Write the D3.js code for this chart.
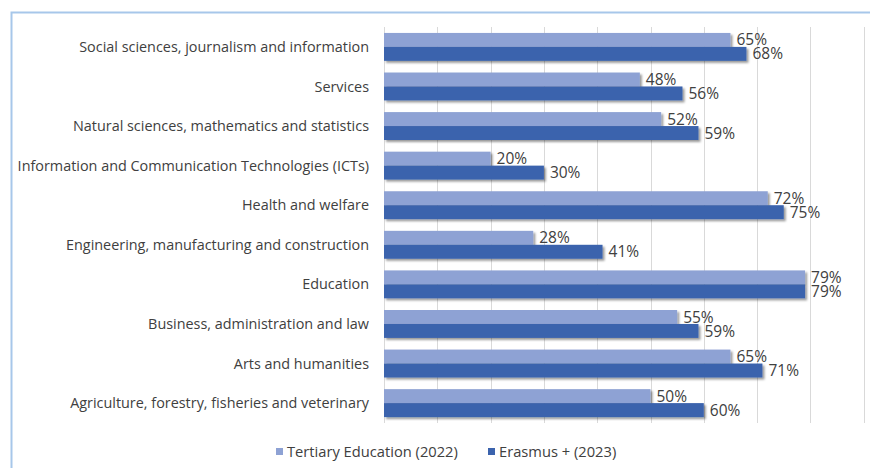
<!DOCTYPE html>
<html>
<head>
<meta charset="utf-8">
<title>Fields of study</title>
<script src="https://cdn.jsdelivr.net/npm/d3@7"></script>
<style>
  body { margin: 0; background: #fff; }
  text { font-family: "Open Sans", sans-serif; fill: #404040; }
  .grid line { stroke: #d9d9d9; stroke-width: 1px; }
</style>
</head>
<body>
<script>
// categories, top to bottom
var categories = [
  "Social sciences, journalism and information",
  "Services",
  "Natural sciences, mathematics and statistics",
  "Information and Communication Technologies (ICTs)",
  "Health and welfare",
  "Engineering, manufacturing and construction",
  "Education",
  "Business, administration and law",
  "Arts and humanities",
  "Agriculture, forestry, fisheries and veterinary"
];
var seriesNames = ["Tertiary Education (2022)", "Erasmus + (2023)"];
var tertiary = [65, 48, 52, 20, 72, 28, 79, 55, 65, 50];
var erasmus  = [68, 56, 59, 30, 75, 41, 79, 59, 71, 60];
var colors = ["#8ea2d4", "#3b63ad"];

var W = 870, H = 468;
var margin = {top: 27, right: 7, bottom: 45, left: 384};

var svg = d3.select("body").append("svg")
    .attr("width", W)
    .attr("height", H);

// outer frame (top + left edges)
svg.append("path")
    .attr("d", "M11.5," + H + "V12.5H" + W)
    .attr("fill", "none")
    .attr("stroke", "#a7c7ea")
    .attr("stroke-width", 2);

// drop shadow for bars
var defs = svg.append("defs");
var f = defs.append("filter").attr("id", "shadow")
    .attr("x", "-5%").attr("y", "-30%").attr("width", "110%").attr("height", "170%");
f.append("feDropShadow")
    .attr("dx", 2).attr("dy", 2).attr("stdDeviation", 1.3)
    .attr("flood-color", "#000").attr("flood-opacity", 0.4);

var x = d3.scaleLinear().domain([0, 90]).range([margin.left, W - margin.right + 0.7]);
var y = d3.scaleBand().domain(categories).range([margin.top, H - margin.bottom]).paddingInner(0.295).paddingOuter(0.15);
var y2 = d3.scaleBand().domain([0, 1]).range([0, y.bandwidth()]);

// gridlines
svg.append("g").attr("class", "grid")
  .selectAll("line")
  .data(d3.range(0, 91, 10))
  .join("line")
    .attr("x1", function(d) { return Math.round(x(d)) + 0.5; })
    .attr("x2", function(d) { return Math.round(x(d)) + 0.5; })
    .attr("y1", margin.top)
    .attr("y2", H - margin.bottom);

// category labels
svg.append("g").selectAll("text")
  .data(categories)
  .join("text")
    .attr("x", margin.left - 15)
    .attr("y", function(d) { return y(d) + y.bandwidth() / 2; })
    .attr("dy", "0.35em")
    .attr("text-anchor", "end")
    .style("font-size", "14.4px")
    .text(function(d) { return d; });

var series = [tertiary, erasmus];

series.forEach(function(vals, s) {
  var g = svg.append("g");
  g.selectAll("rect")
    .data(vals)
    .join("rect")
      .attr("x", x(0))
      .attr("y", function(d, i) { return y(categories[i]) + y2(s); })
      .attr("width", function(d) { return x(d) - x(0); })
      .attr("height", y2.bandwidth())
      .attr("fill", colors[s])
      .attr("filter", "url(#shadow)");

  g.selectAll("text")
    .data(vals)
    .join("text")
      .attr("x", function(d) { return x(d) + 6; })
      .attr("y", function(d, i) { return y(categories[i]) + y2(s) + y2.bandwidth() / 2; })
      .attr("dy", "0.36em")
      .style("font-size", "15.5px")
      .text(function(d) { return d + "%"; });
});

// legend
var legendX = [276, 488];
var leg = svg.append("g").selectAll("g")
  .data(seriesNames)
  .join("g")
    .attr("transform", function(d, i) { return "translate(" + legendX[i] + ",452)"; });
leg.append("rect")
    .attr("x", 0).attr("y", -4)
    .attr("width", 7).attr("height", 7)
    .attr("fill", function(d, i) { return colors[i]; });
leg.append("text")
    .attr("x", 11)
    .attr("dy", "0.35em")
    .style("font-size", "14.7px")
    .text(function(d) { return d; });
</script>
</body>
</html>
